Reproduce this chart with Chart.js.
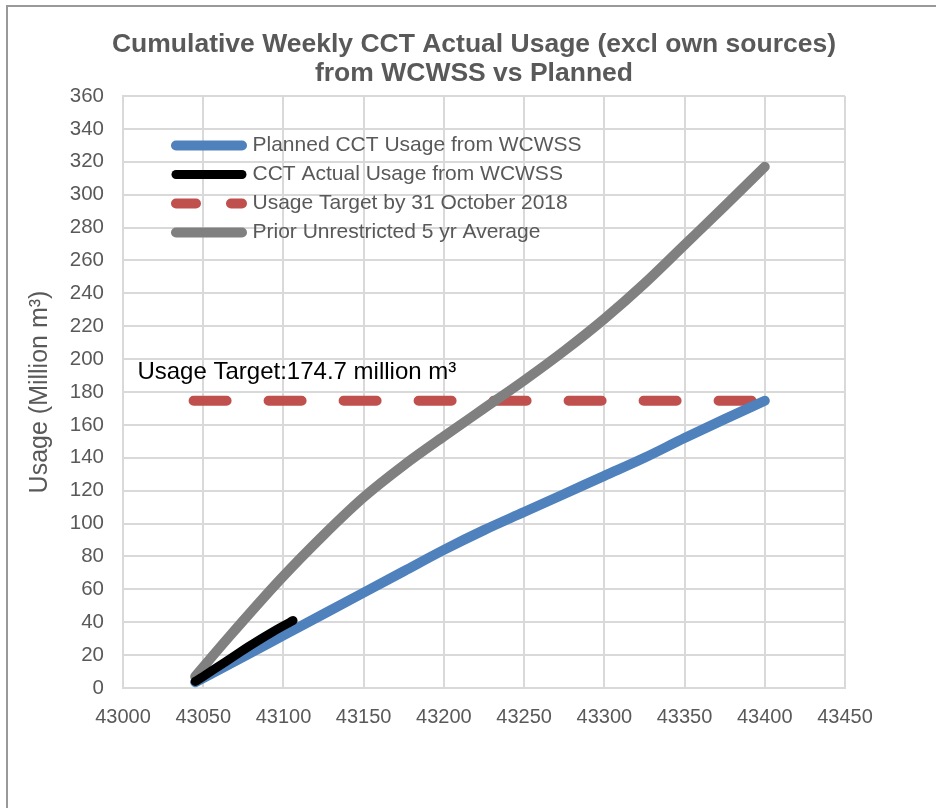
<!DOCTYPE html>
<html>
<head>
<meta charset="utf-8">
<script src="https://cdn.jsdelivr.net/npm/chart.js@4"></script>
<style>
  html, body { margin: 0; padding: 0; background: #fff; }
  #wrap { position: relative; width: 936px; height: 808px; overflow: hidden; }
  #frame {
    position: absolute; left: 6px; top: 5px; width: 1000px; height: 900px;
    border-left: 2px solid #999; border-top: 2px solid #999;
  }
  canvas { position: absolute; left: 0; top: 0; }
</style>
</head>
<body>
<div id="wrap">
  <div id="frame"></div>
  <canvas id="chart" width="936" height="808"></canvas>
</div>
<script>
const FONT = "'Liberation Sans', Arial, sans-serif";
const TEXT_GREY = "#595959";

// Planned CCT usage from WCWSS (million m3), by date serial
const plannedDates = [43045, 43075, 43100, 43125, 43150, 43175, 43200, 43225, 43250, 43275, 43300, 43325, 43350, 43375, 43400];
const plannedUsage = [3.5, 19, 32, 45, 58, 71, 84, 96, 107, 118, 129, 140, 152, 163.5, 174.7];

// Actual usage so far
const actualDates = [43045, 43050, 43057, 43064, 43071, 43078, 43085, 43092, 43099, 43106];
const actualUsage = [4, 7, 11.5, 16, 20.5, 25, 29.3, 33.4, 37.3, 41];

// Usage target line
const targetDates = [43044, 43400];
const targetUsage = [174.7, 174.7];

// Prior unrestricted 5 yr average
const priorDates = [43045, 43066, 43098, 43125, 43150, 43175, 43200, 43225, 43250, 43275, 43300, 43325, 43350, 43375, 43400];
const priorUsage = [7, 31, 66, 93, 116, 135.5, 153, 170, 187, 205, 224.5, 246, 269.5, 293, 317];

const seriesNames = [
  "Planned CCT Usage from WCWSS",
  "CCT Actual Usage from WCWSS",
  "Usage Target by 31 October 2018",
  "Prior Unrestricted 5 yr Average"
];

const targetLabel = "Usage Target:174.7 million m³";
const targetLabelAt = { x: 43009, y: 188 };

function toPoints(xs, ys) {
  return xs.map((x, i) => ({ x: x, y: ys[i] }));
}

// put the legend inside the plot and shift the title a little right, like the original
const placeBoxes = {
  id: "placeBoxes",
  afterLayout(chart) {
    const area = chart.chartArea;
    chart.legend.left = area.left + 45;
    chart.legend.top = area.top + 31;
    chart.titleBlock.left = 103;
  }
};

const targetText = {
  id: "targetText",
  afterDraw(chart) {
    const ctx = chart.ctx;
    const xs = chart.scales.x, ys = chart.scales.y;
    ctx.save();
    ctx.font = "24px " + FONT;
    ctx.fillStyle = "#000";
    ctx.textBaseline = "alphabetic";
    ctx.textAlign = "left";
    ctx.fillText(targetLabel, xs.getPixelForValue(targetLabelAt.x), ys.getPixelForValue(targetLabelAt.y));
    ctx.restore();
  }
};

const lineBase = {
  fill: false,
  pointRadius: 0,
  pointHoverRadius: 0,
  borderCapStyle: "round",
  borderJoinStyle: "round",
  cubicInterpolationMode: "monotone"
};

new Chart(document.getElementById("chart"), {
  type: "line",
  data: {
    datasets: [
      Object.assign({}, lineBase, {
        label: seriesNames[0],
        data: toPoints(plannedDates, plannedUsage),
        borderColor: "#4F81BD",
        backgroundColor: "#4F81BD",
        borderWidth: 10,
        order: 2
      }),
      Object.assign({}, lineBase, {
        label: seriesNames[1],
        data: toPoints(actualDates, actualUsage),
        borderColor: "#000000",
        backgroundColor: "#000000",
        borderWidth: 9,
        order: 0
      }),
      Object.assign({}, lineBase, {
        label: seriesNames[2],
        data: toPoints(targetDates, targetUsage),
        borderColor: "#C0504D",
        backgroundColor: "#C0504D",
        borderWidth: 10,
        borderDash: [33, 42],
        order: 3
      }),
      Object.assign({}, lineBase, {
        label: seriesNames[3],
        data: toPoints(priorDates, priorUsage),
        borderColor: "#808080",
        backgroundColor: "#808080",
        borderWidth: 10,
        order: 1
      })
    ]
  },
  options: {
    responsive: false,
    animation: false,
    layout: { padding: { left: 0, right: 91, top: 0, bottom: 0 } },
    plugins: {
      tooltip: { enabled: false },
      title: {
        display: true,
        text: ["Cumulative Weekly CCT Actual Usage (excl own sources)", "from WCWSS vs Planned"],
        color: TEXT_GREY,
        font: { family: FONT, size: 26.5, weight: "bold", lineHeight: 1.07 },
        padding: { top: 31, bottom: 8.3 }
      },
      legend: {
        position: "chartArea",
        align: "start",
        labels: {
          color: TEXT_GREY,
          font: { family: FONT, size: 21 },
          usePointStyle: true,
          pointStyle: "line",
          pointStyleWidth: 66,
          padding: 8,
          sort: (a, b) => a.datasetIndex - b.datasetIndex,
          generateLabels(chart) {
            const items = Chart.defaults.plugins.legend.labels.generateLabels(chart);
            items.forEach(it => {
              it.lineCap = "round";
              if (it.datasetIndex === 2) it.lineDash = [20, 35];
            });
            return items;
          }
        }
      }
    },
    scales: {
      x: {
        type: "linear",
        min: 43000,
        max: 43450,
        afterFit(scale) { scale.height = 120; },
        ticks: {
          stepSize: 50,
          color: TEXT_GREY,
          font: { family: FONT, size: 20 },
          padding: 17,
          maxRotation: 0,
          callback: v => String(v)
        },
        grid: { color: "#D9D9D9", lineWidth: 2, drawTicks: false },
        border: { color: "#D9D9D9", width: 2 }
      },
      y: {
        min: 0,
        max: 360,
        afterFit(scale) { scale.width = 123; },
        ticks: {
          stepSize: 20,
          color: TEXT_GREY,
          font: { family: FONT, size: 20.5 },
          padding: 19
        },
        grid: { color: "#D9D9D9", lineWidth: 2, drawTicks: false },
        border: { color: "#D9D9D9", width: 2 },
        title: {
          display: true,
          text: "Usage (Million m³)",
          color: TEXT_GREY,
          font: { family: FONT, size: 25 },
          padding: { top: 25, bottom: 0 }
        }
      }
    }
  },
  plugins: [placeBoxes, targetText]
});
</script>
</body>
</html>
